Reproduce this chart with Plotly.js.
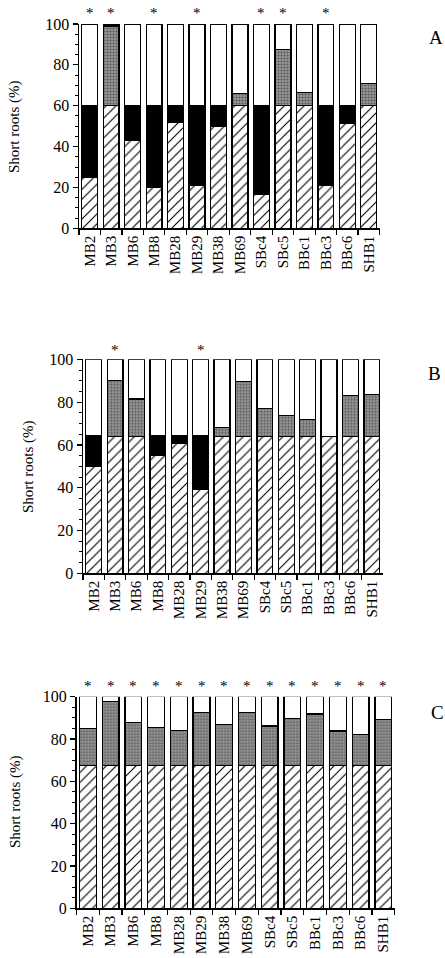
<!DOCTYPE html>
<html><head><meta charset="utf-8">
<script src="https://cdn.plot.ly/plotly-3.0.1.min.js"></script>
<style>html,body{margin:0;padding:0;background:#fff;}#chart{width:445px;height:958px;}</style>
</head><body><div id="chart"></div>
<script>
var categories = ['MB2','MB3','MB6','MB8','MB28','MB29','MB38','MB69','SBc4','SBc5','BBc1','BBc3','BBc6','SHB1'];

// Panel A
var A_hatched = [25,60,43,20,52,21,50,60,16.5,60,60,21,51.5,60];
var A_black   = [35,0,17,40,8,39,10,0,43.5,0,0,39,8.5,0];
var A_gray    = [0,39,0,0,0,0,0,6,0,27.5,6.5,0,0,11];
var A_white   = [40,1,40,40,40,40,40,34,40,12.5,33.5,40,40,29];
var A_star    = [1,1,0,1,0,1,0,0,1,1,0,1,0,0];

// Panel B
var B_hatched = [50,64,64,55,60.5,39,64,64,64,64,64,64,64,64];
var B_black   = [14.5,0,0,9.5,4,25.5,0,0,0,0,0,0,0,0];
var B_gray    = [0,26,17.5,0,0,0,4,25.5,13,9.7,8,0,19,19.5];
var B_white   = [35.5,10,18.5,35.5,35.5,35.5,32,10.5,23,26.3,28,36,17,16.5];
var B_star    = [0,1,0,0,0,1,0,0,0,0,0,0,0,0];

// Panel C
var C_hatched = [67.5,67.5,67.5,67.5,67.5,67.5,67.5,67.5,67.5,67.5,67.5,67.5,67.5,67.5];
var C_black   = [0,0,0,0,0,0,0,0,0,0,0,0,0,0];
var C_gray    = [17.5,30.1,20.2,18,16.4,25.1,19.3,25.1,18.6,22.3,24.3,16.3,14.7,21.8];
var C_white   = [15,2.4,12.3,14.5,16.1,7.4,13.2,7.4,13.9,10.2,8.2,16.2,17.8,10.7];
var C_star    = [1,1,1,1,1,1,1,1,1,1,1,1,1,1];

var yTicks = [0,20,40,60,80,100];
var panelLabels = ['A','B','C'];
var yTitle = 'Short roots (%)';

var W = 445, H = 958;
var FONT = 'Liberation Serif, Times New Roman, serif';

var panels = [
  {h:A_hatched,b:A_black,g:A_gray,w:A_white,s:A_star, x0:79, x1:379.5, y0:24, y1:228.3, lab:[427,37], yt:[14,127], sy:1.055},
  {h:B_hatched,b:B_black,g:B_gray,w:B_white,s:B_star, x0:83, x1:382.5, y0:359.3, y1:573.3, lab:[426,373], yt:[28,467], sy:1.045},
  {h:C_hatched,b:C_black,g:C_gray,w:C_white,s:C_star, x0:76.5, x1:394.7, y0:696.7, y1:908.3, lab:[429,712], yt:[15,802], sy:1.05}
];

var traces = [];
var layout = {
  width:W, height:H, margin:{l:0,r:0,t:0,b:0},
  paper_bgcolor:'#fff', plot_bgcolor:'rgba(0,0,0,0)',
  barmode:'stack', bargap:0.26, showlegend:false,
  font:{family:FONT, size:13, color:'#000'},
  annotations:[]
};

var line = {color:'#000', width:1.3};
panels.forEach(function(p, i){
  var n = i===0 ? '' : String(i+1);
  var xa = 'x'+n, ya = 'y'+n;
  var common = {type:'bar', x:categories, xaxis:xa, yaxis:ya, hoverinfo:'skip'};
  traces.push(Object.assign({}, common, {y:p.h, marker:{color:'#fff', line:line,
    pattern:{shape:'/', fgcolor:'#000', bgcolor:'#fff', size:7, solidity:0.16}}}));
  traces.push(Object.assign({}, common, {y:p.b, marker:{color:'#000', line:line}}));
  traces.push(Object.assign({}, common, {y:p.g, marker:{color:'#8a8a8a', line:line,
    pattern:{shape:'.', fgcolor:'#555', bgcolor:'#999', size:3, solidity:0.4}}}));
  traces.push(Object.assign({}, common, {y:p.w, marker:{color:'#fff', line:line}}));

  categories.forEach(function(c, k){
    if (p.s[k]) {
      layout.annotations.push({xref:xa, yref:ya+' domain', x:c, y:p.sy, text:'*', showarrow:false,
        xanchor:'center', yanchor:'middle', font:{family:FONT, size:15, color:'#000'}});
    }
  });

  layout['xaxis'+n] = {
    domain:[p.x0/W, p.x1/W], anchor:ya, type:'category', range:[-0.5,13.5],
    showline:true, linecolor:'#000', linewidth:1.5, mirror:false,
    ticks:'outside', tickson:'boundaries', ticklen:5, tickwidth:1.2, tickcolor:'#000',
    tickangle:-90, tickfont:{family:FONT, size:15, color:'#000'},
    showgrid:false, zeroline:false, fixedrange:true
  };
  layout['yaxis'+n] = {
    domain:[1-p.y1/H, 1-p.y0/H], anchor:xa, range:[0,100],
    tickvals:yTicks, ticktext:yTicks.map(String),
    showline:true, linecolor:'#000', linewidth:1.5,
    ticks:'outside', ticklen:5, tickwidth:1.2, tickcolor:'#000',
    minor:{dtick:5, tick0:0, ticks:'outside', ticklen:3, tickwidth:1, tickcolor:'#000', showgrid:false},
    tickfont:{family:FONT, size:16, color:'#000'},
    showgrid:false, zeroline:false, fixedrange:true
  };
  layout.annotations.push({xref:'paper', yref:'paper', x:p.yt[0]/W, y:1-p.yt[1]/H,
    text:yTitle, textangle:-90, showarrow:false, xanchor:'center', yanchor:'middle',
    font:{family:FONT, size:15, color:'#000'}});
  layout.annotations.push({xref:'paper', yref:'paper', x:p.lab[0]/W, y:1-p.lab[1]/H,
    text:panelLabels[i], showarrow:false, xanchor:'left', yanchor:'middle',
    font:{family:FONT, size:19, color:'#000'}});
});

Plotly.newPlot('chart', traces, layout, {staticPlot:true, displayModeBar:false});
</script>
</body></html>
